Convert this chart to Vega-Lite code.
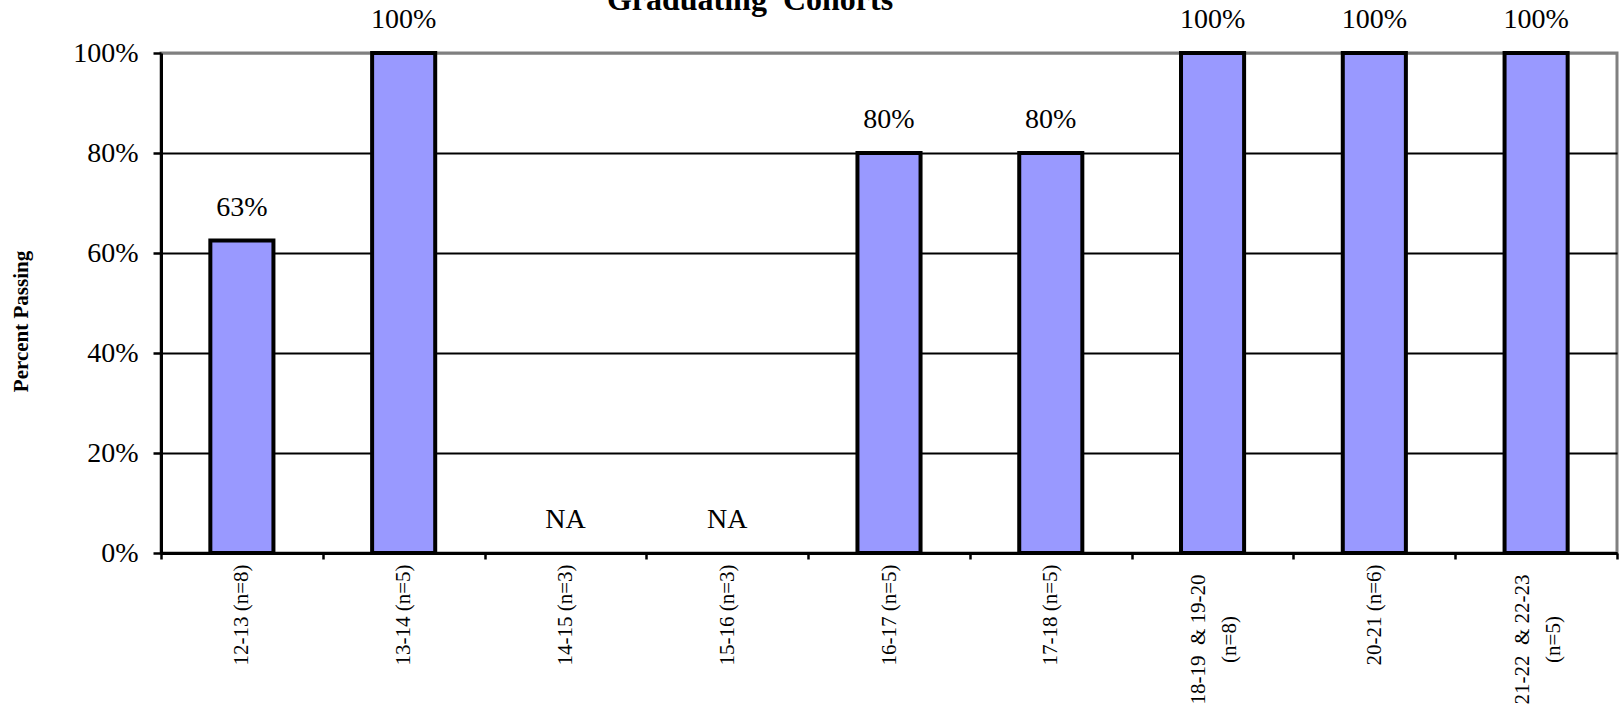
{
  "$schema": "https://vega.github.io/schema/vega-lite/v6.json",
  "width": 1456,
  "height": 500,
  "autosize": "none",
  "padding": {"left": 161, "top": 53, "right": 2, "bottom": 165},
  "background": "white",
  "title": {
    "text": "Graduating\u00a0 Cohorts",
    "font": "Liberation Serif",
    "fontSize": 32,
    "fontWeight": "bold",
    "color": "black",
    "frame": "group",
    "anchor": "middle",
    "dx": -139,
    "dy": 36,
    "baseline": "alphabetic",
    "offset": 0
  },
  "data": {
    "values": [
      {"cohort": "12-13 (n=8)", "pct": 0.625, "label": "63%"},
      {"cohort": "13-14 (n=5)", "pct": 1, "label": "100%"},
      {"cohort": "14-15 (n=3)", "pct": 0, "label": "NA"},
      {"cohort": "15-16 (n=3)", "pct": 0, "label": "NA"},
      {"cohort": "16-17 (n=5)", "pct": 0.8, "label": "80%"},
      {"cohort": "17-18 (n=5)", "pct": 0.8, "label": "80%"},
      {"cohort": "18-19\u00a0 & 19-20|(n=8)", "pct": 1, "label": "100%"},
      {"cohort": "20-21 (n=6)", "pct": 1, "label": "100%"},
      {"cohort": "21-22\u00a0 & 22-23|(n=5)", "pct": 1, "label": "100%"}
    ]
  },
  "encoding": {
    "x": {
      "field": "cohort",
      "type": "nominal",
      "sort": ["12-13 (n=8)", "13-14 (n=5)", "14-15 (n=3)", "15-16 (n=3)", "16-17 (n=5)", "17-18 (n=5)", "18-19\u00a0 & 19-20|(n=8)", "20-21 (n=6)", "21-22\u00a0 & 22-23|(n=5)"],
      "scale": {"paddingInner": 0, "paddingOuter": 0},
      "axis": {
        "title": null,
        "labelAngle": 270,
        "labelAlign": {"condition": {"test": "indexof(datum.label, '|') >= 0", "value": "center"}, "value": "right"},
        "labelPadding": {"condition": {"test": "indexof(datum.label, '|') >= 0", "value": 80}, "value": 5},
        "labelOffset": {"condition": {"test": "indexof(datum.label, '|') >= 0", "value": -14}, "value": 0},
        "labelBaseline": "middle",
        "labelFont": "Liberation Serif",
        "labelFontSize": 21,
        "labelColor": "black",
        "labelLineHeight": 31,
        "labelOverlap": false,
        "labelLimit": 0,
        "labelExpr": "indexof(datum.label, '|') >= 0 ? split(datum.label, '|') : datum.label",
        "tickBand": "extent",
        "tickSize": 6,
        "tickColor": "black",
        "tickWidth": 2.5,
        "domainColor": "black",
        "domainWidth": 3
      }
    },
    "y": {
      "field": "pct",
      "type": "quantitative",
      "scale": {"domain": [0, 1], "nice": false},
      "axis": {
        "title": "Percent Passing",
        "titleFont": "Liberation Serif",
        "titleFontSize": 21,
        "titleFontWeight": "bold",
        "titleColor": "black",
        "titleAngle": 270,
        "titleX": -140,
        "titleY": 268,
        "titleAlign": "center",
        "titleBaseline": "middle",
        "values": [0, 0.2, 0.4, 0.6, 0.8, 1],
        "format": ".0%",
        "labelFont": "Liberation Serif",
        "labelFontSize": 28,
        "labelColor": "black",
        "labelPadding": 15,
        "tickSize": 8,
        "tickColor": "black",
        "tickWidth": 2.5,
        "domainColor": "black",
        "domainWidth": 3,
        "grid": true,
        "gridColor": {"condition": {"test": "datum.value == 1", "value": "#808080"}, "value": "black"},
        "gridWidth": 2
      }
    }
  },
  "layer": [
    {
      "transform": [{"filter": "datum.label != 'NA'"}],
      "mark": {"type": "bar", "fill": "#9999ff", "stroke": "black", "strokeWidth": 4, "width": {"band": 0.39}}
    },
    {
      "mark": {"type": "text", "font": "Liberation Serif", "fontSize": 28, "dy": -25, "baseline": "alphabetic", "color": "black"},
      "encoding": {"text": {"field": "label"}}
    }
  ],
  "config": {
    "view": {"stroke": "#808080", "strokeWidth": 3}
  }
}
